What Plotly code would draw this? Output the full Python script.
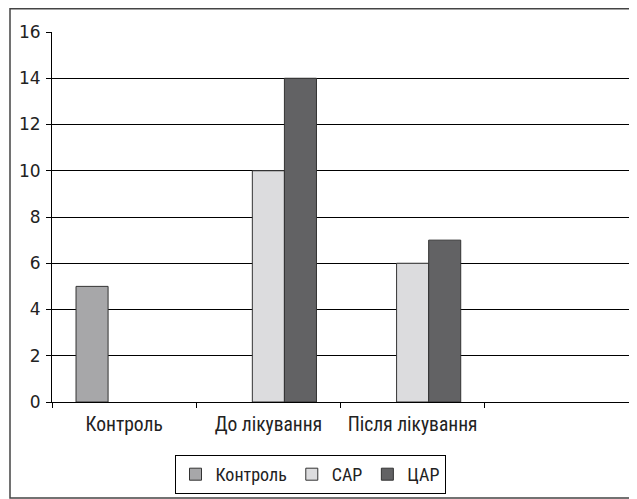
import plotly.graph_objects as go

categories = ["Контроль", "До лікування", "Після лікування", " "]
series_names = ["Контроль", "САР", "ЦАР"]
control_vals = [5, None, None, None]
sar_vals = [None, 10, 6, None]
car_vals = [None, 14, 7, None]
y_ticks = [0, 2, 4, 6, 8, 10, 12, 14, 16]

colors = ["#A7A7A9", "#DCDCDE", "#626264"]
values = [control_vals, sar_vals, car_vals]

narrow = "Liberation Sans Narrow, Arial Narrow, Roboto Condensed, Liberation Sans, sans-serif"

fig = go.Figure()
for name, vals, col in zip(series_names, values, colors):
    fig.add_trace(go.Bar(
        x=categories, y=vals, name=name,
        marker=dict(color=col, line=dict(color="#333333", width=1)),
    ))

# page has an 8px body margin, so the figure is sized to fit the window
W, H = 629, 491
L, R, T, B = 44, 8, 24, 97
pw, ph = W - L - R, H - T - B

def px(xp):
    return (xp - L) / pw

def py(yp):
    return (H - B - yp) / ph

fig.update_layout(
    width=W, height=H,
    margin=dict(l=L, r=R, t=T, b=B, autoexpand=False),
    paper_bgcolor="white", plot_bgcolor="white",
    barmode="group", bargap=0.333, bargroupgap=0,
    showlegend=True,
    legend=dict(
        orientation="h", x=px(302), xanchor="center", y=py(447), yanchor="top",
        bordercolor="black", borderwidth=1,
        font=dict(family=narrow, size=18, color="#222222"),
        itemwidth=30, tracegroupgap=0,
    ),
    xaxis=dict(
        type="category", categoryorder="array", categoryarray=categories,
        tickson="boundaries", ticks="outside", ticklen=5, tickcolor="black",
        showline=True, linecolor="black", linewidth=1,
        showgrid=False, automargin=False, ticklabelstandoff=5,
        tickfont=dict(family=narrow, size=19.5, color="#222222"),
    ),
    yaxis=dict(
        range=[0, 16], tickvals=y_ticks, ticks="outside", ticklen=5,
        tickcolor="black",
        showline=True, linecolor="black", linewidth=1,
        showgrid=True, gridcolor="black", gridwidth=1,
        zeroline=False, automargin=False, ticklabelstandoff=2,
        tickfont=dict(family="DejaVu Sans, Liberation Sans, sans-serif", size=17, color="#222222"),
    ),
    shapes=[dict(
        type="rect", xref="paper", yref="paper",
        x0=px(2), x1=px(627), y0=py(490), y1=py(0.75),
        line=dict(color="#444444", width=1.5), fillcolor="rgba(0,0,0,0)",
    )],
)

fig.write_html("out.html")
